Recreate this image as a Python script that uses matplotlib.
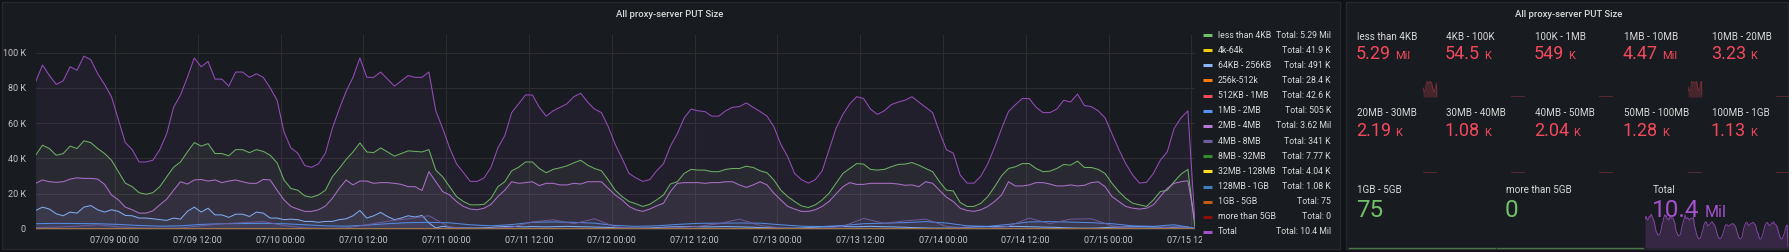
import matplotlib
matplotlib.use("Agg")
import matplotlib.pyplot as plt
import matplotlib.dates as mdates
from matplotlib.patches import Rectangle
from matplotlib.lines import Line2D
from matplotlib.ticker import FuncFormatter
from matplotlib.transforms import Bbox, TransformedBbox
import pandas as pd

plt.rcParams["font.family"] = ["Roboto", "DejaVu Sans"]

# ---- data (hourly, 7 days) ----
start = pd.Timestamp("2023-07-08 12:30")
hours = pd.date_range(start, periods=169, freq="h")
hours3 = pd.date_range(start, periods=57, freq="3h")
hours12 = pd.date_range(start, periods=15, freq="12h")

total = [
    83.5, 93, 87, 82, 84, 92, 90, 98, 96, 88,
    82, 75, 62, 49, 45, 38, 38, 39, 45, 54,
    69, 76, 86, 97, 92, 95, 85, 85, 81, 89,
    89, 86, 88, 86, 80, 73, 55, 46, 43, 36,
    35, 37, 43, 57, 68, 78, 86, 97, 86, 86,
    89, 85, 81, 84, 87, 86, 86, 89, 67, 57,
    46, 37, 32, 27, 27, 29, 35, 46, 53, 66,
    71, 76, 76, 69, 64, 67, 69, 71, 75, 77,
    72, 68, 66,
    58, 48, 40, 31.5, 29, 27, 28, 33, 37, 47,
    54, 63, 68, 67, 66.6, 64, 64, 67, 69, 69.4,
    71.5, 69, 66.6, 64, 58, 48, 41, 31.5, 28, 26,
    28, 33, 45, 57, 65, 71, 75, 74, 68, 65,
    67, 70.5, 72, 73, 75, 72, 69, 66, 55, 45,
    43, 30.6, 26, 26, 30, 37, 46.5, 57, 66.6, 70.5,
    74, 74, 69, 66, 66, 68, 73, 72, 76.5, 70,
    69.4, 67, 63, 54, 45, 37, 30.6, 26, 26.5, 31.5,
    39, 43.7, 57, 63, 67, 5,
]
less_4kb = [
    41.8, 47.5, 45.6, 41.8, 42.8, 47, 45.6, 50, 49, 45.6,
    42.8, 39, 32.5, 26, 24, 20.6, 19.7, 20.6, 24, 29.6,
    35, 38, 43.7, 49, 47, 48.4, 42.8, 42.8, 41.5, 45,
    45, 43.3, 45, 44, 41.8, 37.5, 27.8, 23, 22, 18.8,
    18, 19.3, 22, 29.6, 34.3, 39.4, 43.7, 48.8, 43.7, 43.3,
    46, 43.7, 41.3, 42.8, 44.3, 44, 43.7, 45, 33.4, 29.6,
    24, 18.4, 15.6, 13.7, 13.7, 14, 17.4, 24, 26.8, 33,
    35, 38, 38, 34.3, 31.9, 33.8, 34.7, 35.8, 37.5, 39,
    36.2, 34.3, 33,
    27.8, 22, 18.4, 15.6, 14.3, 12.8, 14, 16.5, 19.3, 25.5,
    26.8, 31.5, 33.8, 33.4, 33.4, 32.5, 32.5, 33.8, 34.3, 34.3,
    35.6, 34.9, 33, 31.9, 27.8, 22, 18.4, 15.6, 13.1, 12.2,
    13.7, 16.5, 20.3, 25.9, 31.5, 34.3, 37.1, 36.8, 33.8, 33.4,
    33.8, 35.3, 36.6, 36.8, 37.7, 36.2, 34.3, 32.5, 26.8, 22,
    21.6, 15, 12.8, 12.8, 14.6, 18.4, 24, 30.2, 34.3, 35.3,
    37.1, 37.1, 34.3, 32.5, 32.8, 34.3, 36.6, 36.2, 38.5, 34.9,
    34.9, 33.8, 31.5, 25.9, 21.2, 17.4, 14.6, 13.7, 12.8, 16.5,
    21.2, 22, 26.8, 31.1, 33.8, 1.5,
]
mb2_4 = [
    25.9, 27.8, 26.8, 26.5, 26.8, 28.3, 29, 28.7, 28.7, 28.3,
    25.3, 19.3, 16.5, 12.4, 10.9, 9, 9, 10.3, 13.7, 16.9,
    22, 26.8, 25.5, 27.8, 28.1, 27.2, 27.8, 26.3, 27.2, 27.8,
    26.8, 25.9, 25.9, 28.1, 27.8, 22, 16.5, 12.8, 11.3, 10,
    10, 10.9, 13, 17.4, 23, 27.8, 25, 27.2, 27.2, 25.9,
    26.3, 26.3, 25.9, 25.3, 24, 24, 21.8, 32.5, 26.8, 21.2,
    19.3, 15.6, 12.8, 11.3, 10.9, 11.8, 14, 18.4, 22, 26.8,
    25.9, 26.3, 26.8, 24.6, 25.9, 25.9, 25, 25, 25.9, 25.5,
    26.8, 26.8, 26.8,
    23, 19.3, 16.5, 12.8, 10.9, 10, 11.3, 13.1, 14.6, 21.2,
    25.9, 26.3, 26.3, 26.3, 25.9, 26.3, 26.3, 26.8, 26.8, 25,
    23.6, 25, 26.8, 25, 20.3, 16.5, 12.8, 11.3, 10, 10,
    10.9, 12.8, 15.6, 19.9, 24, 26.3, 25.3, 25.3, 25.9, 25.9,
    25.9, 25.9, 25.5, 24.8, 25, 24, 26.8, 25.9, 22, 18,
    15.6, 11.8, 10.5, 10, 10.9, 12.8, 15.6, 19.3, 26.8, 24.4,
    24.4, 25, 26.3, 26.3, 25.5, 24.4, 24.4, 25, 24.4, 24.8,
    26.3, 26.8, 24, 18.4, 15.6, 12.8, 11.8, 11.3, 11.8, 13.7,
    18.4, 23, 25.9, 26.8, 27.4, 5,
]
kb64_256 = [
    10.5, 12.4, 11.3, 8.6, 7.5, 9.6, 9.0, 12.4, 13.3, 10.9,
    9.6, 10.9, 10.0, 7.7, 7.5, 6.2, 6.2, 5.8, 5.3, 4.9,
    6.2, 5.6, 10.0, 12.4, 9.6, 11.8, 8.0, 8.0, 6.6, 8.4,
    8.4, 7.1, 9.6, 9.0, 6.2, 6.2, 5.3, 5.6, 5.3, 4.3,
    4.3, 3.8, 4.3, 4.3, 5.3, 5.8, 7.5, 10.5, 6.2, 7.5,
    9.4, 7.1, 5.3, 6.2, 7.5, 6.8, 7.7, 3.4, 0.6, 1.5,
    1.0, 0.8, 0.7, 0.6, 0.6, 0.7, 0.9, 1.2, 1.4, 1.5,
    1.3, 1.2, 1.4, 1.3, 1.2, 1.3, 1.4, 1.5, 1.4, 1.3,
    1.2, 1.1, 1.0,
    0.9, 0.7, 0.6, 0.5, 0.5, 0.5, 0.6, 0.8, 1.0, 1.2,
    1.3, 1.3, 1.4, 1.3, 1.2, 1.2, 1.3, 1.4, 1.3, 1.2,
    1.1, 1.0, 0.8, 0.7, 0.6, 0.5, 0.5, 0.5, 0.6, 0.8,
    1.0, 1.2, 1.3, 1.4, 1.4, 1.3, 1.3, 1.4, 1.5, 1.4,
    1.3, 1.2, 1.1, 1.0, 0.8, 0.7, 0.6, 0.5, 0.5, 0.5,
    0.6, 0.8, 1.0, 1.2, 1.3, 1.4, 1.3, 1.3, 1.4, 1.5,
    1.4, 1.3, 1.2, 1.1, 1.0, 0.9, 0.7, 0.6, 0.5, 0.5,
    0.5, 0.6, 0.8, 1.0, 1.1, 1.2, 1.2, 1.3, 1.2, 1.1,
    1.0, 0.9, 1.0, 1.1, 1.0, 0.2,
]
# 3-hourly
mb1_2 = [
    3.0, 3.2, 3.1, 3.0, 2.6, 2.0, 1.6, 1.8, 2.6, 3.0,
    3.1, 3.2, 3.0, 2.4, 1.8, 1.6, 2.2, 3.0, 3.6, 3.8,
    3.5, 2.4, 1.8, 2.5, 3.8, 4.0, 3.8, 3.3, 2.0, 1.5,
    1.8, 2.6, 3.2, 3.3, 3.4, 3.3, 2.4, 1.6, 1.4, 2.0,
    3.0, 3.3, 3.6, 4.2, 3.4, 1.8, 1.5, 2.6, 4.0, 4.2,
    3.9, 3.6, 3.0, 1.8, 1.5, 2.4, 0.5,
]
mb4_8 = [
    0.8, 1.0, 1.6, 2.4, 1.2, 0.6, 0.4, 0.6, 1.8, 3.0,
    3.6, 4.2, 2.0, 0.6, 0.4, 0.6, 2.4, 4.4, 5.8, 7.5,
    1.0, 0.5, 0.4, 1.0, 4.0, 5.2, 3.0, 5.8, 1.2, 0.5,
    0.4, 0.8, 1.5, 3.0, 5.6, 2.0, 0.6, 0.4, 0.4, 1.5,
    6.0, 3.2, 4.6, 5.6, 1.5, 0.5, 0.4, 1.5, 6.2, 3.0,
    5.6, 5.8, 1.8, 0.6, 0.4, 1.2, 0.3,
]
# 12-hourly, tiny series
k4_64 = [0.26, 0.25, 0.24, 0.27, 0.25, 0.23, 0.26, 0.25, 0.24, 0.26, 0.25, 0.24, 0.26, 0.25, 0.03]
k256_512 = [0.17, 0.16, 0.18, 0.17, 0.16, 0.17, 0.18, 0.16, 0.17, 0.17, 0.16, 0.18, 0.17, 0.16, 0.02]
kb512_1mb = [0.26, 0.25, 0.24, 0.27, 0.25, 0.25, 0.26, 0.24, 0.25, 0.26, 0.25, 0.24, 0.26, 0.25, 0.03]
mb8_32 = [0.05, 0.045, 0.04, 0.05, 0.045, 0.05, 0.045, 0.04, 0.05, 0.045, 0.05, 0.045, 0.04, 0.05, 0.005]
mb32_128 = [0.025, 0.02, 0.025, 0.03, 0.02, 0.025, 0.025, 0.02, 0.025, 0.03, 0.02, 0.025, 0.025, 0.02, 0.0]
mb128_1g = [0.007, 0.006, 0.007, 0.006, 0.007, 0.006, 0.007, 0.006, 0.007, 0.006, 0.007, 0.006, 0.007, 0.006, 0.0]
gb1_5 = [0.0, 0.001, 0.0, 0.0, 0.001, 0.0, 0.0, 0.001, 0.0, 0.0, 0.001, 0.0, 0.0, 0.001, 0.0]
gt_5gb = [0.0, 0.0, 0.0, 0.0, 0.0, 0.0, 0.0, 0.0, 0.0, 0.0, 0.0, 0.0, 0.0, 0.0, 0.0]

legend_names = ["less than 4KB", "4k-64k", "64KB - 256KB", "256k-512k", "512KB - 1MB",
                "1MB - 2MB", "2MB - 4MB", "4MB - 8MB", "8MB - 32MB", "32MB - 128MB",
                "128MB - 1GB", "1GB - 5GB", "more than 5GB", "Total"]
legend_totals = ["5.29 Mil", "41.9 K", "491 K", "28.4 K", "42.6 K", "505 K", "3.62 Mil",
                 "341 K", "7.77 K", "4.04 K", "1.08 K", "75", "0", "10.4 Mil"]
colors = ["#73BF69", "#F2CC0C", "#8AB8FF", "#FF780A", "#F2495C", "#5794F2", "#B877D9",
          "#705DA0", "#37872D", "#FADE2A", "#447EBC", "#C15C17", "#890F02", "#A352CC"]
series = [(hours, less_4kb), (hours12, k4_64), (hours, kb64_256), (hours12, k256_512),
          (hours12, kb512_1mb), (hours3, mb1_2), (hours, mb2_4), (hours3, mb4_8),
          (hours12, mb8_32), (hours12, mb32_128), (hours12, mb128_1g), (hours12, gb1_5),
          (hours12, gt_5gb), (hours, total)]

stat_names = ["less than 4KB", "4KB - 100K", "100K - 1MB", "1MB - 10MB", "10MB - 20MB",
              "20MB - 30MB", "30MB - 40MB", "40MB - 50MB", "50MB - 100MB", "100MB - 1GB"]
stat_nums = ["5.29", "54.5", "549", "4.47", "3.23", "2.19", "1.08", "2.04", "1.28", "1.13"]
stat_units = ["Mil", "K", "K", "Mil", "K", "K", "K", "K", "K", "K"]
big_names = ["1GB - 5GB", "more than 5GB", "Total"]
big_nums = ["75", "0", "10.4"]
big_units = ["", "", "Mil"]

# ---- styling ----
W, H = 1790, 252
PAGE_BG = "#111217"
PANEL_BG = "#181b1f"
BORDER = "#24272c"
GRID = "#2b2d31"
TEXT = "#d8d9da"
RED = "#F2495C"
GREEN = "#73BF69"
PURPLE = "#A352CC"


def fx(x):
    return x / W


def fy(y):
    return 1 - y / H


fig = plt.figure(figsize=(W / 100, H / 100), dpi=100, facecolor=PAGE_BG)

# panel backgrounds go below everything else
for x0, x1 in [(2, 1340), (1346, 1788)]:
    fig.add_artist(Rectangle((fx(x0), fy(249)), fx(x1) - fx(x0), fy(2) - fy(249),
                             transform=fig.transFigure, facecolor=PANEL_BG,
                             edgecolor=BORDER, lw=1, zorder=-10))

fig.text(fx(670), fy(14.5), "All proxy-server PUT Size", ha="center", va="center",
         fontsize=6.8, color=TEXT, fontweight="medium")
fig.text(fx(1569), fy(14.5), "All proxy-server PUT Size", ha="center", va="center",
         fontsize=6.8, color=TEXT, fontweight="medium")

# ---- time series ----
ax = fig.add_axes([fx(35.6), fy(229), (1194.8 - 35.6) / W, 194 / H])
ax.set_facecolor("none")
for (t, v), c in zip(series, colors):
    vals = [x * 1000 for x in v]
    ax.fill_between(t, vals, color=c, alpha=0.08, lw=0)
    ax.plot(t, vals, color=c, lw=0.75, alpha=0.9)

ax.set_xlim(hours[0], hours[-1])
ax.set_ylim(0, 110000)
ax.set_yticks([0, 20000, 40000, 60000, 80000, 100000])
ax.yaxis.set_major_formatter(FuncFormatter(lambda v, _: "0" if v == 0 else f"{int(v / 1000)} K"))
ax.xaxis.set_major_locator(mdates.HourLocator(byhour=[0, 12]))
ax.xaxis.set_major_formatter(mdates.DateFormatter("%m/%d %H:%M"))
ax.tick_params(length=0, labelsize=6.5, colors="#c4c5c8")
ax.tick_params(axis="x", pad=5)
ax.tick_params(axis="y", pad=7)
ax.grid(True, color=GRID, lw=0.8)
ax.set_axisbelow(True)
for s in ax.spines.values():
    s.set_visible(False)

# legend table
for i, (name, tot, c) in enumerate(zip(legend_names, legend_totals, colors)):
    y = 35 + i * 15.15
    fig.add_artist(Line2D([fx(1203), fx(1212)], [fy(y), fy(y)], transform=fig.transFigure,
                          color=c, lw=2.2, solid_capstyle="butt"))
    fig.text(fx(1218), fy(y), name, ha="left", va="center", fontsize=6.3, color=TEXT)
    fig.text(fx(1331), fy(y), "Total: " + tot, ha="right", va="center", fontsize=6.3, color=TEXT)

# ---- stat tiles ----
col_x = [1357, 1446, 1535, 1624, 1712]
num_texts = []
for k in range(10):
    r, cidx = divmod(k, 5)
    lab_y = [37.3, 113.3][r]
    base_y = [59.3, 136][r]
    fig.text(fx(col_x[cidx]), fy(lab_y), stat_names[k], ha="left", va="center",
             fontsize=7.1, color=TEXT)
    t = fig.text(fx(col_x[cidx] - 1), fy(base_y), stat_nums[k], ha="left", va="baseline",
                 fontsize=13, color=RED)
    num_texts.append((t, stat_units[k], RED, 8, 4))

big_x = [1357, 1506, 1653]
big_colors = [GREEN, GREEN, PURPLE]
for k in range(3):
    fig.text(fx(big_x[k]), fy(189.7), big_names[k], ha="left", va="center",
             fontsize=7.1, color=TEXT)

# total sparkline
sp = fig.add_axes([fx(1645), fy(248), fx(1788) - fx(1645), 34 / H])
tv = [x * 1000 for x in total]
sp.fill_between(hours, tv, color=PURPLE, alpha=0.22, lw=0)
sp.plot(hours, tv, color=PURPLE, lw=0.7, alpha=0.75)
sp.set_xlim(hours[0], hours[-1])
sp.set_ylim(0, 99000)
sp.axis("off")

for k in range(3):
    t = fig.text(fx(big_x[k] - 1), fy(216.7), big_nums[k], ha="left", va="baseline",
                 fontsize=17.5, color=big_colors[k], zorder=5)
    if big_units[k]:
        num_texts.append((t, big_units[k], big_colors[k], 11.5, 5))

# green flat sparklines of the bottom row
for x0, x1 in [(1349, 1495), (1497, 1643)]:
    fig.add_artist(Line2D([fx(x0), fx(x1)], [fy(247.5), fy(247.5)], transform=fig.transFigure,
                          color=GREEN, lw=1, alpha=0.55))

# small sparklines in the first two rows
spark_right = [1437, 1525, 1613, 1702, 1790]
for k in range(10):
    r, cidx = divmod(k, 5)
    bottom = [97, 172.7][r]
    a = fig.add_axes([fx(spark_right[cidx] - 14), fy(bottom), 14 / W, 16 / H])
    a.axis("off")
    if k in (0, 3):
        src = less_4kb if k == 0 else mb2_4
        v = [x * 1000 for x in src[-37:]]
        a.fill_between(hours[-37:], v, color=RED, alpha=0.22, lw=0)
        a.plot(hours[-37:], v, color=RED, lw=0.7, alpha=0.35)
        a.set_ylim(0, max(v))
    else:
        a.axhline(0, color=RED, lw=1.2, alpha=0.35)
        a.set_ylim(0, 1)
    a.set_xlim(hours[-37], hours[-1])

# place units right after the numbers
fig.canvas.draw()
renderer = fig.canvas.get_renderer()
for t, unit, c, fs, gap in num_texts:
    bb = t.get_window_extent(renderer)
    x, y = t.get_position()
    fig.text((bb.x1 + gap) / W, y, unit, ha="left", va="baseline", fontsize=fs, color=c, zorder=5)

# clip the last x tick label like the panel does
clip = TransformedBbox(Bbox([[0, 0], [fx(1202), 1]]), fig.transFigure)
for tick in ax.xaxis.get_major_ticks():
    tick.label1.set_clip_box(clip)
    tick.label1.set_clip_on(True)

fig.savefig("out.png", dpi=100, facecolor=PAGE_BG)
